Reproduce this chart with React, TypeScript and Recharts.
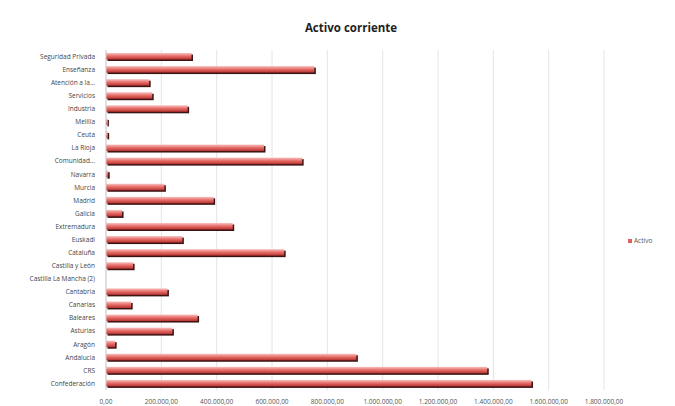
import { BarChart, Bar, XAxis, YAxis, CartesianGrid } from 'recharts';

const categories = [
  'Seguridad Privada', 'Enseñanza', 'Atención a la...', 'Servicios', 'Industria',
  'Melilla', 'Ceuta', 'La Rioja', 'Comunidad...', 'Navarra', 'Murcia', 'Madrid',
  'Galicia', 'Extremadura', 'Euskadi', 'Cataluña', 'Castilla y León',
  'Castilla La Mancha (2)', 'Cantabria', 'Canarias', 'Baleares', 'Asturias',
  'Aragón', 'Andalucía', 'CRS', 'Confederación',
];

const activo = [
  309000, 753000, 156000, 167000, 295000,
  5000, 6000, 571000, 709000, 8000, 211000, 389000,
  58000, 458000, 276000, 644000, 98000,
  0, 222000, 91000, 331000, 240000,
  33000, 905000, 1378000, 1538000,
];

const xTicks = [0, 200000, 400000, 600000, 800000, 1000000, 1200000, 1400000, 1600000, 1800000];

const chartData = categories.map((name, i) => ({ name, activo: activo[i] }));

const formatEs = (v: number) => {
  const int = Math.round(v).toString().replace(/\B(?=(\d{3})+(?!\d))/g, '.');
  return `${int},00`;
};

const BarShape = (props: any) => {
  const { x, y, width, height } = props;
  if (!width || width <= 0) return null;
  return (
    <g>
      <rect x={x + 1.5} y={y + 1.5} width={width} height={height} fill="#3b1414" />
      <rect x={x} y={y} width={width} height={height} fill="url(#barGrad)" />
    </g>
  );
};

const CatTick = (props: any) => {
  const { x, y, payload } = props;
  return (
    <text x={x - 3} y={y} dy={2.3} textAnchor="end" fontSize={6.5} fill="#444">
      {payload.value}
    </text>
  );
};

const NumTick = (props: any) => {
  const { x, y, payload } = props;
  return (
    <text x={x} y={y} dy={6} textAnchor="middle" fontSize={6.5} fill="#555">
      {formatEs(payload.value)}
    </text>
  );
};

export default function App() {
  return (
    <div style={{ position: 'absolute', left: 0, top: 0, width: 675, height: 406, background: '#fff', fontFamily: '"Open Sans", sans-serif' }}>
      <div style={{ position: 'absolute', top: 20, left: 251, width: 200, textAlign: 'center', fontSize: 11.5, fontWeight: 700, color: '#222' }}>
        Activo corriente
      </div>
      <div style={{ position: 'absolute', top: 236, left: 628, fontSize: 6.5, color: '#555', display: 'flex', alignItems: 'center' }}>
        <span style={{ display: 'inline-block', width: 4, height: 4, background: '#e06060', marginRight: 2 }} />
        Activo
      </div>
      <BarChart
        width={675}
        height={406}
        data={chartData}
        layout="vertical"
        margin={{ top: 50, right: 71, bottom: 0, left: 0 }}
        barSize={6.5}
      >
        <defs>
          <linearGradient id="barGrad" x1="0" y1="0" x2="0" y2="1">
            <stop offset="0%" stopColor="#f7c2c0" />
            <stop offset="45%" stopColor="#e8716d" />
            <stop offset="100%" stopColor="#b8322e" />
          </linearGradient>
        </defs>
        <CartesianGrid horizontal={false} stroke="#e4e4e4" />
        <XAxis
          type="number"
          domain={[0, 1800000]}
          ticks={xTicks}
          height={16}
          axisLine={false}
          tickLine={false}
          tick={<NumTick />}
          interval={0}
        />
        <YAxis
          type="category"
          dataKey="name"
          width={106}
          axisLine={{ stroke: '#d0d0d0' }}
          tickLine={false}
          tick={<CatTick />}
          interval={0}
        />
        <Bar dataKey="activo" name="Activo" fill="#e06060" shape={<BarShape />} isAnimationActive={false} />
      </BarChart>
    </div>
  );
}
